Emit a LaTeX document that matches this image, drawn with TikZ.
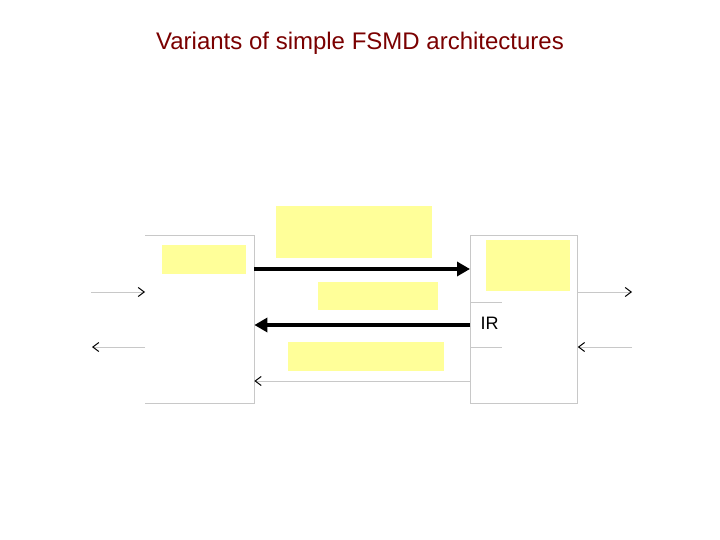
\documentclass[tikz,border=0pt]{standalone}
\usepackage{fontspec}
\setmainfont{Liberation Sans}
\usetikzlibrary{arrows.meta}
\definecolor{titlered}{RGB}{122,0,0}
\definecolor{padyellow}{RGB}{255,255,153}
\definecolor{edgegray}{RGB}{200,200,200}
\begin{document}
\begin{tikzpicture}[
  x=1pt, y=-1pt,
  pad/.style={fill=padyellow, draw=none, inner sep=0pt, anchor=north west},
  unit/.style={inner sep=0pt, anchor=north west},
  edge/.style={draw=edgegray, line width=0.8pt},
  bus/.style={line width=4pt, -{Triangle[length=13pt,width=14pt]}},
  wire/.style={draw=edgegray, line width=0.7pt,
    -{Straight Barb[black,length=6pt,width=9pt,line width=1pt]}}
]
\useasboundingbox (0,0) rectangle (720,540);

% --- Title ---
\node[font=\fontsize{24}{28}\selectfont, text=titlered] (title) at (360,43)
  {Variants of simple FSMD architectures};

% --- Controller (left) ---
\node[unit, minimum width=109, minimum height=168] (ctrl) at (145,235) {};
\draw[edge] (ctrl.north west) -- (ctrl.north east) -- (ctrl.south east)
  -- (ctrl.south west);
\node[pad, minimum width=84, minimum height=29] (cpad) at (162,245) {};

% --- Datapath (right) ---
\node[unit, edge, draw, minimum width=107, minimum height=168] (dp) at (470,235) {};
\node[pad, minimum width=84, minimum height=51] (dpad) at (486,240) {};
\node[font=\fontsize{18}{21}\selectfont, anchor=west] (ir) at (477,323) {IR};
\coordinate (irtop) at (502,302);
\coordinate (irbot) at (502,347);
\draw[edge] (dp.west |- irtop) -- (irtop);
\draw[edge] (dp.west |- irbot) -- (irbot);

% --- Labels between ---
\node[pad, minimum width=156, minimum height=52] (tpad) at (276,206) {};
\node[pad, minimum width=120, minimum height=28] (mpad) at (318,282) {};
\node[pad, minimum width=156, minimum height=29] (bpad) at (288,342) {};

% --- Buses ---
\draw[bus] (ctrl.east |- 0,269) -- (dp.west |- 0,269);
\draw[bus] (dp.west |- 0,325) -- (ctrl.east |- 0,325);
\draw[wire] (dp.west |- 0,381) -- (ctrl.east |- 0,381);

% --- Outside wires ---
\coordinate (inL) at (91,292);
\coordinate (outL) at (92,347);
\coordinate (outR) at (632,292);
\coordinate (inR) at (632,347);
\draw[wire] (inL) -- (ctrl.west |- inL);
\draw[wire] (ctrl.west |- outL) -- (outL);
\draw[wire] (dp.east |- outR) -- (outR);
\draw[wire] (inR) -- (dp.east |- inR);

\end{tikzpicture}
\end{document}
